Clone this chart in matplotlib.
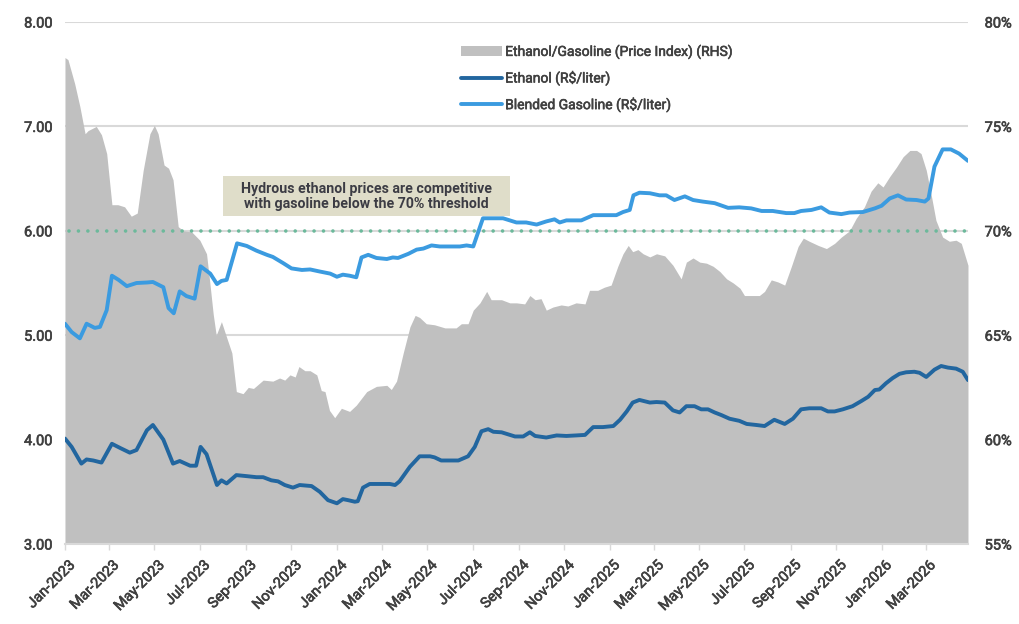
import matplotlib
matplotlib.use("Agg")
import matplotlib.pyplot as plt
import matplotlib.dates as mdates
import matplotlib.patheffects as pe
import matplotlib.transforms as mtrans
from matplotlib.patches import Rectangle
from matplotlib.ticker import FuncFormatter
import pandas as pd

plt.rcParams['font.family'] = ['Roboto', 'DejaVu Sans']

START = pd.Timestamp('2023-01-01')

# Ethanol/Gasoline price index (RHS, %), days since 2023-01-01
ratio_days = [0, 4, 13, 20, 27, 31, 42, 49, 56, 63,
              71, 80, 89, 97, 105, 114, 120, 125, 133, 139,
              145, 152, 159, 170, 181, 190, 194, 199, 203, 210,
              216, 224, 230, 239, 246, 253, 266, 279, 288, 295,
              302, 309, 314, 322, 329, 338, 344, 349, 355, 362,
              371, 382, 391, 405, 418, 432, 438, 445, 454, 463,
              470, 476, 485, 496, 510, 525, 532, 541, 548, 557,
              566, 572, 586, 597, 606, 617, 624, 631, 639, 646,
              655, 666, 675, 686, 698, 704, 715, 724, 733, 742,
              749, 756, 762, 769, 776, 785, 794, 805, 816, 827,
              834, 843, 852, 861, 870, 879, 888, 897, 906, 912,
              923, 932, 939, 948, 957, 966, 975, 984, 991, 999,
              1011, 1022, 1033, 1042, 1053, 1062, 1073, 1082, 1091, 1098,
              1107, 1116, 1125, 1134, 1143, 1149, 1156, 1163, 1169, 1178,
              1187, 1196, 1203, 1212]
ratio_pct = [78.3, 78.2, 77.05, 75.95, 74.65, 74.8, 75.0, 74.6, 73.7, 71.25,
             71.25, 71.15, 70.7, 70.85, 72.9, 74.65, 75.05, 74.65, 73.15, 73.0,
             72.45, 70.2, 70.0, 69.95, 69.55, 68.9, 67.65, 66.0, 65.0, 65.65,
             65.0, 64.15, 62.3, 62.2, 62.5, 62.45, 62.85, 62.8, 62.95, 62.85,
             63.1, 63.0, 63.5, 63.3, 63.3, 63.1, 62.35, 62.3, 61.4, 61.05,
             61.5, 61.35, 61.65, 62.3, 62.55, 62.6, 62.4, 62.8, 64.15, 65.4,
             65.95, 65.85, 65.55, 65.5, 65.35, 65.35, 65.55, 65.55, 66.2, 66.55,
             67.1, 66.7, 66.7, 66.55, 66.55, 66.5, 66.9, 66.7, 66.75, 66.2,
             66.35, 66.45, 66.4, 66.55, 66.5, 67.15, 67.15, 67.3, 67.4, 68.3,
             68.9, 69.3, 69.0, 69.1, 68.9, 68.75, 68.9, 68.8, 68.35, 67.7,
             68.5, 68.7, 68.5, 68.45, 68.3, 68.05, 67.7, 67.5, 67.25, 66.9,
             66.9, 66.9, 67.1, 67.65, 67.55, 67.4, 68.3, 69.25, 69.65, 69.5,
             69.3, 69.15, 69.4, 69.7, 70.0, 70.6, 71.15, 71.9, 72.3, 72.1,
             72.6, 73.05, 73.55, 73.85, 73.85, 73.7, 72.9, 71.65, 70.5, 69.7,
             69.5, 69.55, 69.4, 68.35]

# Ethanol (R$/liter)
eth_days = [0, 9, 22, 29, 38, 49, 63, 74, 87, 96,
            110, 118, 132, 145, 154, 168, 176, 182, 190, 204,
            210, 217, 230, 244, 257, 266, 277, 286, 295, 306,
            315, 331, 342, 353, 365, 373, 380, 389, 393, 400,
            409, 423, 436, 443, 449, 463, 476, 490, 496, 505,
            521, 528, 541, 550, 559, 568, 575, 586, 595, 604,
            615, 624, 631, 646, 660, 673, 686, 698, 709, 722,
            736, 745, 754, 762, 771, 785, 794, 805, 816, 825,
            834, 845, 854, 863, 872, 881, 892, 905, 915, 928,
            939, 952, 966, 977, 988, 999, 1015, 1024, 1033, 1044,
            1057, 1069, 1078, 1087, 1093, 1102, 1111, 1120, 1129, 1140,
            1147, 1156, 1167, 1176, 1185, 1196, 1205, 1212]
eth_price = [4.01, 3.93, 3.77, 3.81, 3.80, 3.78, 3.96, 3.92, 3.875, 3.90,
             4.09, 4.14, 4.00, 3.77, 3.795, 3.75, 3.75, 3.93, 3.86, 3.565,
             3.61, 3.58, 3.66, 3.65, 3.64, 3.64, 3.61, 3.60, 3.565, 3.54,
             3.565, 3.555, 3.50, 3.42, 3.39, 3.43, 3.42, 3.405, 3.41, 3.54,
             3.575, 3.575, 3.575, 3.565, 3.60, 3.74, 3.84, 3.84, 3.83, 3.80,
             3.80, 3.80, 3.84, 3.93, 4.08, 4.10, 4.075, 4.07, 4.05, 4.03,
             4.03, 4.07, 4.035, 4.02, 4.04, 4.035, 4.04, 4.045, 4.12, 4.12,
             4.13, 4.19, 4.27, 4.355, 4.38, 4.355, 4.36, 4.355, 4.28, 4.26,
             4.32, 4.32, 4.29, 4.29, 4.26, 4.235, 4.20, 4.18, 4.15, 4.14,
             4.13, 4.19, 4.15, 4.20, 4.29, 4.30, 4.30, 4.27, 4.27, 4.29,
             4.32, 4.37, 4.41, 4.475, 4.48, 4.54, 4.59, 4.63, 4.645, 4.65,
             4.64, 4.60, 4.67, 4.705, 4.69, 4.68, 4.65, 4.57]

# Blended Gasoline (R$/liter)
gas_days = [0, 9, 20, 29, 40, 47, 56, 63, 72, 83,
            96, 110, 118, 132, 139, 146, 154, 163, 174, 182,
            195, 204, 210, 217, 231, 244, 257, 271, 279, 293,
            304, 318, 329, 342, 356, 365, 373, 382, 391, 398,
            407, 418, 432, 440, 447, 461, 472, 481, 492, 503,
            516, 530, 539, 548, 554, 561, 575, 588, 597, 606,
            619, 633, 646, 657, 664, 673, 693, 709, 722, 740,
            749, 758, 763, 771, 785, 798, 807, 818, 832, 843,
            856, 872, 890, 905, 921, 935, 950, 968, 979, 988,
            1002, 1015, 1026, 1042, 1053, 1071, 1087, 1096, 1107, 1118,
            1129, 1143, 1154, 1159, 1167, 1178, 1189, 1200, 1212]
gas_price = [5.11, 5.03, 4.97, 5.11, 5.07, 5.08, 5.24, 5.57, 5.53, 5.47,
             5.50, 5.505, 5.51, 5.46, 5.26, 5.21, 5.42, 5.375, 5.35, 5.66,
             5.59, 5.49, 5.52, 5.53, 5.88, 5.855, 5.81, 5.77, 5.75, 5.69,
             5.64, 5.625, 5.63, 5.61, 5.59, 5.56, 5.58, 5.57, 5.555, 5.745,
             5.77, 5.74, 5.73, 5.745, 5.74, 5.78, 5.82, 5.83, 5.86, 5.85,
             5.85, 5.85, 5.86, 5.85, 5.975, 6.12, 6.12, 6.12, 6.10, 6.08,
             6.08, 6.06, 6.09, 6.11, 6.08, 6.10, 6.10, 6.15, 6.15, 6.15,
             6.18, 6.20, 6.34, 6.365, 6.36, 6.34, 6.34, 6.295, 6.33, 6.295,
             6.28, 6.265, 6.22, 6.225, 6.215, 6.19, 6.19, 6.17, 6.17, 6.19,
             6.20, 6.225, 6.175, 6.16, 6.175, 6.18, 6.215, 6.24, 6.31, 6.34,
             6.30, 6.295, 6.28, 6.31, 6.615, 6.78, 6.78, 6.74, 6.67]

threshold_price = 6.00
left_ticks = [3, 4, 5, 6, 7, 8]
right_ticks = [55, 60, 65, 70, 75, 80]
annotation = "Hydrous ethanol prices are competitive\nwith gasoline below the 70% threshold"
labels = ["Ethanol/Gasoline (Price Index) (RHS)", "Ethanol (R$/liter)",
          "Blended Gasoline (R$/liter)"]


def to_dates(days):
    return START + pd.to_timedelta(days, unit='D')


ratio_x = to_dates(ratio_days)
eth_x = to_dates(eth_days)
gas_x = to_dates(gas_days)

TXT = '#404040'
GRID = '#d9d9d9'
GREY = '#c0c0c0'
DARK = '#22669f'
LIGHT = '#3b9be0'
GREEN = '#6cb99b'
medium = [pe.withStroke(linewidth=0.45, foreground=TXT)]

fig = plt.figure(figsize=(10.2, 6.24), dpi=100)
fig.subplots_adjust(left=0.0637, right=0.949, top=0.9647, bottom=0.1282)
ax1 = fig.add_subplot(111)
ax2 = ax1.twinx()
ax2.set_zorder(0)
ax1.set_zorder(1)
ax1.patch.set_visible(False)

# area on right axis
area = ax2.fill_between(ratio_x, 55, ratio_pct, color=GREY, lw=0, zorder=2,
                        label=labels[0])
ax2.set_ylim(55, 80)
ax2.set_yticks(right_ticks)
ax2.yaxis.set_major_formatter(FuncFormatter(lambda v, p: f"{v:.0f}%"))
ax2.grid(True, axis='both', color=GRID, lw=1.5, zorder=0)
ax2.set_axisbelow(True)

# white legend backdrop
ax2.add_patch(Rectangle((0.382, 0.818), 0.432, 0.153, transform=ax2.transAxes,
                        facecolor='white', edgecolor='none', zorder=1))

# lines on left axis
l1, = ax1.plot(eth_x, eth_price, color=DARK, lw=2.8, solid_joinstyle='round',
               solid_capstyle='round', zorder=4, label=labels[1])
l2, = ax1.plot(gas_x, gas_price, color=LIGHT, lw=2.8, solid_joinstyle='round',
               solid_capstyle='round', zorder=4, label=labels[2])
ax1.axhline(threshold_price, xmin=0.004, xmax=1.0, color=GREEN, lw=2.6,
            linestyle=(0, (0.01, 2.6)), dash_capstyle='round', zorder=3)
ax1.set_ylim(3, 8)
ax1.set_yticks(left_ticks)
ax1.yaxis.set_major_formatter(FuncFormatter(lambda v, p: f"{v:.2f}"))

ax1.set_xlim(ratio_x[0], ratio_x[-1])
ax1.xaxis.set_major_locator(mdates.MonthLocator(bymonth=[1, 3, 5, 7, 9, 11]))
ax1.xaxis.set_major_formatter(mdates.DateFormatter('%b-%Y'))

for ax in (ax1, ax2):
    for s in ax.spines.values():
        s.set_visible(False)
ax2.spines['bottom'].set_visible(True)
ax2.spines['bottom'].set_color(GRID)
ax2.spines['bottom'].set_linewidth(1.5)

ax1.tick_params(axis='x', length=4, width=1, color=GRID, pad=6,
                labelsize=10.5, labelcolor=TXT)
ax1.tick_params(axis='y', length=0, pad=9, labelsize=10.5, labelcolor=TXT)
ax2.tick_params(axis='y', length=0, pad=12, labelsize=10.5, labelcolor=TXT)
ax2.tick_params(axis='x', length=0)
shift = mtrans.ScaledTranslation(3 / 100, 0, fig.dpi_scale_trans)
for lab in ax1.get_xticklabels():
    lab.set_rotation(45)
    lab.set_ha('right')
    lab.set_rotation_mode('anchor')
    lab.set_transform(lab.get_transform() + shift)
for lab in ax1.get_xticklabels() + ax1.get_yticklabels() + ax2.get_yticklabels():
    lab.set_path_effects(medium)

# annotation box
ax1.add_patch(Rectangle((0.175, 0.628), 0.318, 0.0766, transform=ax1.transAxes,
                        facecolor='#dfddc9', edgecolor='none', zorder=5))
ax1.text(0.334, 0.6665, annotation, transform=ax1.transAxes, ha='center',
         va='center', fontsize=10.2, fontweight='bold', color='#3c3c44',
         linespacing=1.1, zorder=6)

leg = ax1.legend([area, l1, l2], labels, loc='upper left',
                 bbox_to_anchor=(0.439, 0.958), borderaxespad=0, borderpad=0,
                 frameon=False, fontsize=10, handlelength=2.9,
                 handletextpad=0.25, labelspacing=0.77)
for t in leg.get_texts():
    t.set_color(TXT)
    t.set_path_effects([pe.withStroke(linewidth=0.4, foreground=TXT)])

fig.savefig('out.png', dpi=100)
